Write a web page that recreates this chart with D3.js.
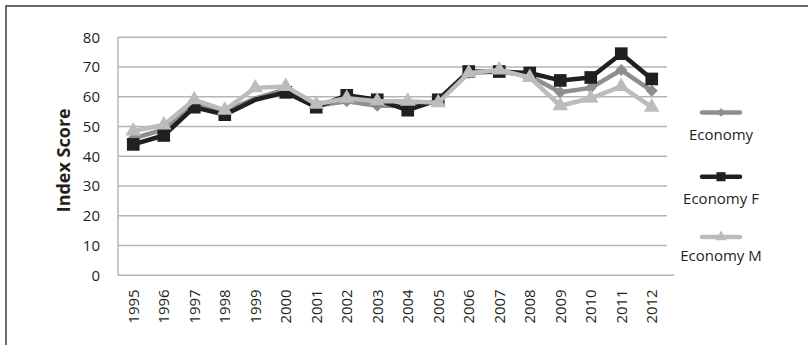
<!DOCTYPE html>
<html>
<head>
<meta charset="utf-8">
<script src="https://cdn.jsdelivr.net/npm/d3@7"></script>
<style>
  html, body { margin: 0; padding: 0; background: #fff; }
  svg { display: block; }
  text { font-family: "Open Sans", "DejaVu Sans", sans-serif; fill: #231f20; }
</style>
</head>
<body>
<svg id="chart" width="808" height="345"></svg>
<script>
// Index scores by year, 1995–2012
const years = ["1995","1996","1997","1998","1999","2000","2001","2002","2003","2004","2005","2006","2007","2008","2009","2010","2011","2012"];
const economy  = [46, 49, 57.5, 55, 59.5, 62.5, 57, 58.5, 57, 57, 58.5, 68, 68.5, 67, 61.5, 63, 69, 62];
const economyF = [44, 47, 56.5, 54, 59, 61.5, 56.5, 60.5, 59, 55.5, 59, 68.5, 68.5, 68, 65.5, 66.5, 74.5, 66];
const economyM = [48.5, 50.5, 59, 55.5, 63, 63.5, 57.5, 59.5, 58.5, 58.5, 58, 68, 69, 66.5, 57, 59.5, 63.5, 56.5];
const yTicks = [0, 10, 20, 30, 40, 50, 60, 70, 80];
const seriesNames = ["Economy", "Economy F", "Economy M"];
// years drawn as plain line vertices (no marker) for the first two series
const noMarkerYears = ["1999"];

const series = [
  { name: seriesNames[0], values: economy,  color: "#8e8e8e", marker: "diamond",  skip: noMarkerYears },
  { name: seriesNames[1], values: economyF, color: "#231f20", marker: "square",   skip: noMarkerYears },
  { name: seriesNames[2], values: economyM, color: "#bcbcbc", marker: "triangle", skip: [] }
];

const svg = d3.select("#chart");

// outer frame (top and left edges)
svg.append("path")
  .attr("d", "M6,345 L6,6 L808,6")
  .attr("fill", "none")
  .attr("stroke", "#3a3a3a")
  .attr("stroke-width", 1.5);

const plot = { left: 118, right: 667, top: 37.3, bottom: 275.3 };

const x = d3.scaleBand().domain(years).range([plot.left, plot.right]).padding(0);
const y = d3.scaleLinear().domain([0, 80]).range([plot.bottom, plot.top]);
const cx = d => x(d) + x.bandwidth() / 2;

// horizontal gridlines
svg.append("g")
  .selectAll("line")
  .data(yTicks)
  .join("line")
  .attr("x1", plot.left)
  .attr("x2", d => d === 0 ? plot.right + 7 : plot.right)
  .attr("y1", d => y(d))
  .attr("y2", d => y(d))
  .attr("stroke", "#b4b4b4")
  .attr("stroke-width", 1.5);

// vertical axis line
svg.append("line")
  .attr("x1", plot.left).attr("x2", plot.left)
  .attr("y1", plot.top).attr("y2", plot.bottom)
  .attr("stroke", "#b4b4b4")
  .attr("stroke-width", 1.5);

// y axis
const yAxis = svg.append("g")
  .attr("transform", `translate(${plot.left},0)`)
  .call(d3.axisLeft(y).tickValues(yTicks).tickSize(0).tickPadding(18));
yAxis.select(".domain").remove();
yAxis.selectAll("text")
  .style("font-family", "'Open Sans', sans-serif")
  .style("font-size", "15px")
  .attr("fill", "#231f20");

// x axis with rotated year labels
const xAxis = svg.append("g")
  .attr("transform", `translate(0,${plot.bottom})`)
  .call(d3.axisBottom(x).tickSize(0).tickPadding(0));
xAxis.select(".domain").remove();
xAxis.selectAll("text")
  .style("font-family", "'Open Sans', sans-serif")
  .style("font-size", "15px")
  .attr("fill", "#231f20")
  .attr("text-anchor", "end")
  .attr("dy", null)
  .attr("y", 0)
  .attr("transform", "translate(5.5,14) rotate(-90)");

// y axis title
svg.append("text")
  .attr("transform", `translate(70,${(plot.top + plot.bottom) / 2 + 4}) rotate(-90)`)
  .attr("text-anchor", "middle")
  .style("font-size", "18px")
  .style("font-weight", "bold")
  .text("Index Score");

// marker shapes
function markerPath(kind, scale) {
  const s = scale || 1;
  if (kind === "square") return d3.symbol(d3.symbolSquare, 160 * s * s)();
  if (kind === "triangle") return d3.symbol(d3.symbolTriangle, 105 * s * s)();
  return d3.symbol(d3.symbolSquare, 72 * s * s)();
}
function markerRotate(kind) { return kind === "diamond" ? " rotate(45)" : ""; }

const line = d3.line().x((d, i) => cx(years[i])).y(d => y(d));

series.forEach(s => {
  const g = svg.append("g");
  g.append("path")
    .datum(s.values)
    .attr("fill", "none")
    .attr("stroke", s.color)
    .attr("stroke-width", 4.5)
    .attr("stroke-linejoin", "round")
    .attr("d", line);
  const pts = s.values
    .map((v, i) => ({ year: years[i], v }))
    .filter(p => !s.skip.includes(p.year));
  g.selectAll("path.m")
    .data(pts)
    .join("path")
    .attr("class", "m")
    .attr("d", markerPath(s.marker))
    .attr("fill", s.color)
    .attr("transform", p => `translate(${cx(p.year)},${y(p.v)})${markerRotate(s.marker)}`);
});

// legend
const legendY = [112.5, 176.7, 237];
const legendTextY = [140, 204, 260.5];
const legend = svg.append("g");
series.forEach((s, i) => {
  legend.append("line")
    .attr("x1", 702).attr("x2", 740)
    .attr("y1", legendY[i]).attr("y2", legendY[i])
    .attr("stroke", s.color)
    .attr("stroke-width", 4.5)
    .attr("stroke-linecap", "round");
  legend.append("path")
    .attr("d", markerPath(s.marker, 0.72))
    .attr("fill", s.color)
    .attr("transform", `translate(721,${legendY[i]})${markerRotate(s.marker)}`);
  legend.append("text")
    .attr("x", 721)
    .attr("y", legendTextY[i])
    .attr("text-anchor", "middle")
    .style("font-size", "15px")
    .text(s.name);
});
</script>
</body>
</html>
